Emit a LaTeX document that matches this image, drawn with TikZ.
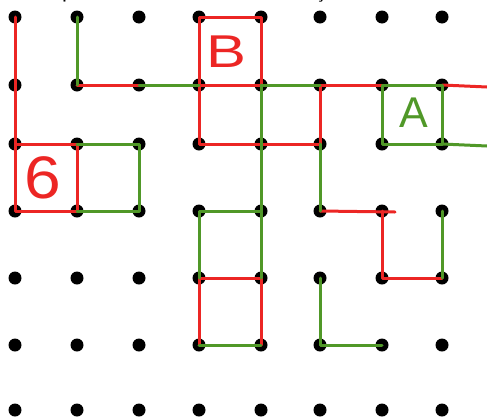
\documentclass[tikz,border=0pt]{standalone}
\usepackage{fontspec}
\setmainfont{Carlito}
\newfontfamily\handfont{Liberation Sans}
\definecolor{penred}{RGB}{236,38,36}
\definecolor{pengreen}{RGB}{80,152,40}
\tikzset{
  gdot/.style={circle,fill=black,inner sep=0pt,minimum size=13pt},
  redline/.style={draw=penred,line width=3pt,line cap=round,line join=round},
  greenline/.style={draw=pengreen,line width=3pt,line cap=round,line join=round},
  letter/.style={font=\handfont,inner sep=0pt}
}
\begin{document}
\begin{tikzpicture}[x=1pt,y=-1pt]
\useasboundingbox (0,0) rectangle (487,418);
\clip (0,0) rectangle (487,418);
\node[anchor=base west,font=\fontsize{22}{22}\selectfont,inner sep=0pt] (caption) at (17,-1.5) {Eis a parte do tabuleiro e a resolução da atividade};
\foreach \x [count=\i from 0] in {15,77,139,199,261,320,382,442}
  \foreach \y [count=\j from 0] in {17,85,144,211,278,345,410}
    \node[gdot] (d\i\j) at (\x,\y) {};
\coordinate (e1) at (487,87);
\coordinate (e2) at (487,146);
\coordinate (e3) at (395,212);
% red strokes
\draw[redline] (d00.center) -- (d01.center) -- (d02.center);
\draw[redline] (d02.center) -- (d12.center) -- (d13.center) -- (d03.center) -- cycle;
\draw[redline] (d11.center) -- (d21.center);
\draw[redline] (d30.center) -- (d40.center) -- (d41.center) -- (d31.center) -- cycle;
\draw[redline] (d31.center) -- (d32.center) -- (d42.center) -- (d52.center) -- (d51.center) -- (d61.center);
\draw[redline] (d71.center) -- (e1);
\draw[redline] (d53.center) -- (e3);
\draw[redline] (d63.center) -- (d64.center) -- (d74.center);
\draw[redline] (d35.center) -- (d34.center) -- (d44.center) -- (d45.center);
% green strokes
\draw[greenline] (d10.center) -- (d11.center);
\draw[greenline] (d21.center) -- (d31.center);
\draw[greenline] (d12.center) -- (d22.center) -- (d23.center) -- (d13.center);
\draw[greenline] (d41.center) -- (d51.center);
\draw[greenline] (d41.center) -- (d42.center) -- (d43.center) -- (d44.center);
\draw[greenline] (d34.center) -- (d33.center) -- (d43.center);
\draw[greenline] (d52.center) -- (d53.center);
\draw[greenline] (d61.center) -- (d71.center) -- (d72.center) -- (d62.center) -- cycle;
\draw[greenline] (d72.center) -- (e2);
\draw[greenline] (d73.center) -- (d74.center);
\draw[greenline] (d54.center) -- (d55.center) -- (d65.center);
\draw[greenline] (d35.center) -- (d45.center);
% letters
\node[letter,text=penred,font=\handfont\fontsize{46}{46}\selectfont,xscale=1.3] (lb) at (226,52) {B};
\node[letter,text=penred,font=\handfont\fontsize{60}{60}\selectfont,xscale=1.1] (l6) at (43,178) {6};
\node[letter,text=pengreen,font=\handfont\fontsize{43}{43}\selectfont] (la) at (414,113) {A};
\end{tikzpicture}
\end{document}
